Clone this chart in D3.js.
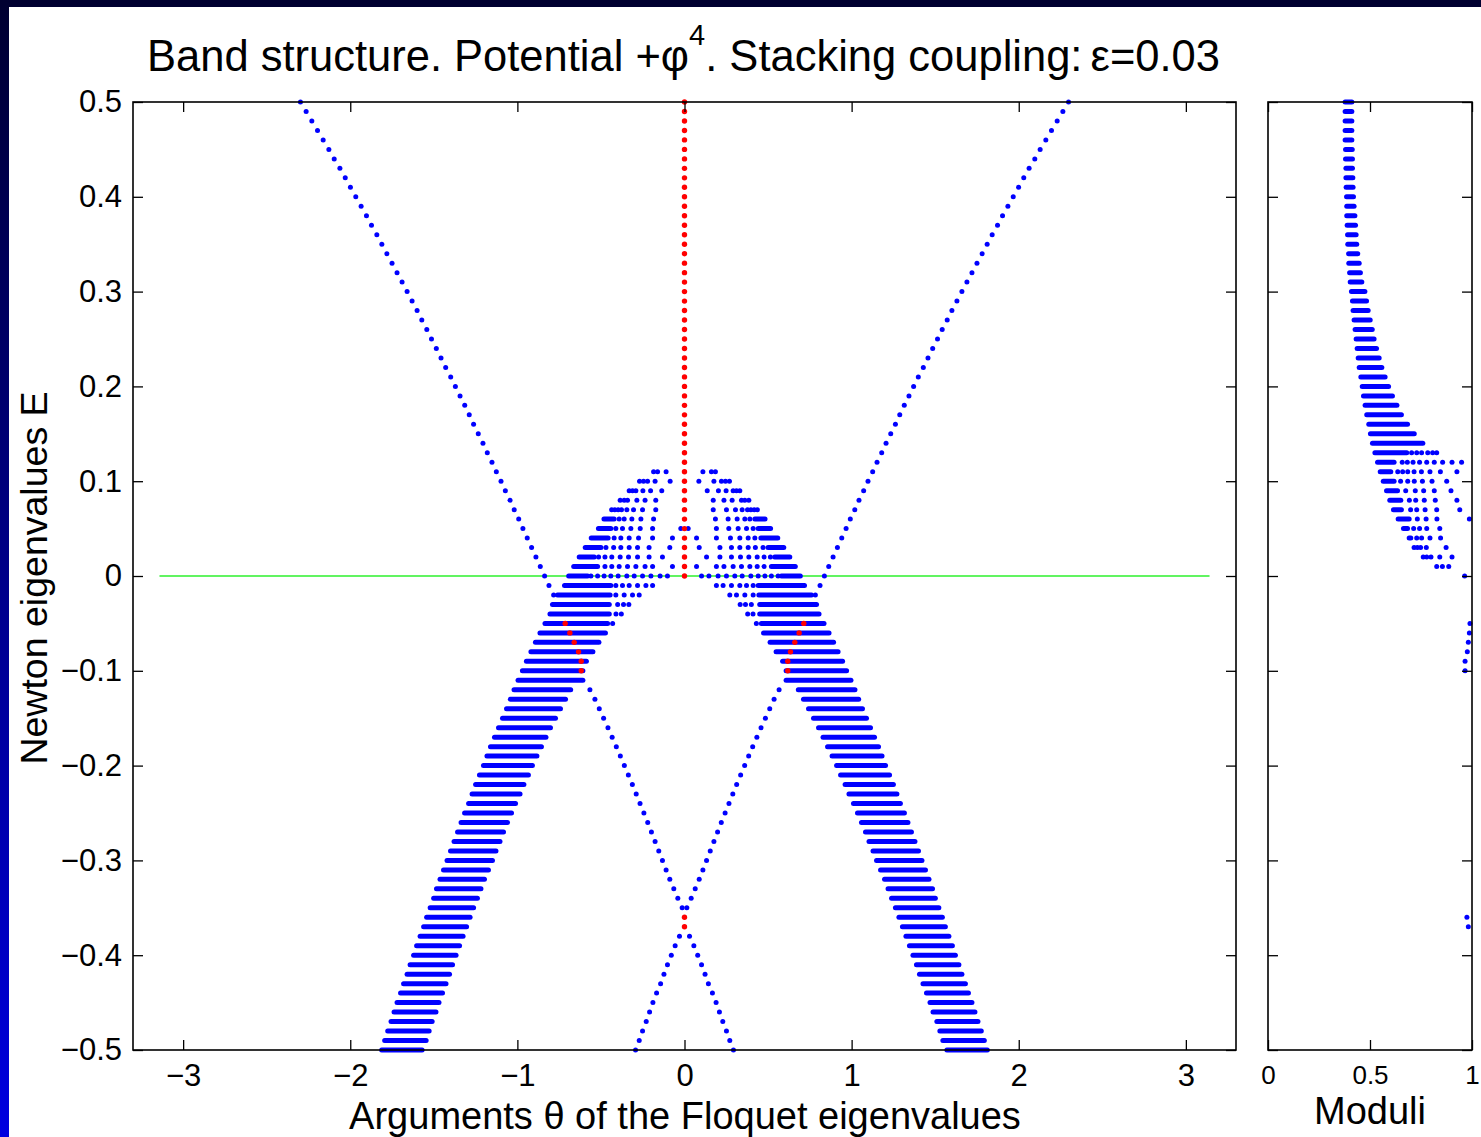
<!DOCTYPE html>
<html>
<head>
<meta charset="utf-8">
<script src="https://cdn.jsdelivr.net/npm/d3@7"></script>
<style>
  html, body { margin: 0; padding: 0; background: #ffffff; }
  svg { display: block; }
  text { font-family: "Liberation Sans", Arial, Helvetica, sans-serif; fill: #000; }
</style>
</head>
<body>
<svg id="chart" width="1481" height="1137"></svg>
<script>
// ---------------------------------------------------------------
// Tick values
// ---------------------------------------------------------------
const xTickValues = [-3, -2, -1, 0, 1, 2, 3];
const yTickValues = [-0.5, -0.4, -0.3, -0.2, -0.1, 0, 0.1, 0.2, 0.3, 0.4, 0.5];
const moduliTickValues = [0, 0.5, 1];

// ---------------------------------------------------------------
// Single-chain branch [E, theta]; its mirror image (theta -> -theta)
// is the second branch.
// ---------------------------------------------------------------
const chainBranch = [
  [0.50, -2.298], [0.49, -2.264], [0.48, -2.230], [0.47, -2.196], [0.46, -2.162],
  [0.45, -2.128], [0.44, -2.096], [0.43, -2.062], [0.42, -2.030], [0.41, -1.999],
  [0.40, -1.967], [0.39, -1.935], [0.38, -1.903], [0.37, -1.873], [0.36, -1.841],
  [0.35, -1.811], [0.34, -1.781], [0.33, -1.750], [0.32, -1.720], [0.31, -1.690],
  [0.30, -1.660], [0.29, -1.630], [0.28, -1.600], [0.27, -1.572], [0.26, -1.542],
  [0.25, -1.514], [0.24, -1.485], [0.23, -1.457], [0.22, -1.429], [0.21, -1.399],
  [0.20, -1.371], [0.19, -1.343], [0.18, -1.315], [0.17, -1.288], [0.16, -1.262],
  [0.15, -1.234], [0.14, -1.206], [0.13, -1.180], [0.12, -1.152], [0.11, -1.126],
  [0.10, -1.098], [0.09, -1.072], [0.08, -1.044], [0.07, -1.019], [0.06, -0.992],
  [0.05, -0.967], [0.04, -0.941], [0.03, -0.915], [0.02, -0.889], [0.01, -0.863],
  [0.00, -0.837], [-0.01, -0.811], [-0.02, -0.783],
  [-0.12, -0.566], [-0.13, -0.536], [-0.14, -0.510], [-0.15, -0.484], [-0.16, -0.458],
  [-0.17, -0.433], [-0.18, -0.408], [-0.19, -0.384], [-0.20, -0.360], [-0.21, -0.336],
  [-0.22, -0.312], [-0.23, -0.289], [-0.24, -0.266], [-0.25, -0.243], [-0.26, -0.220],
  [-0.27, -0.198], [-0.28, -0.176], [-0.29, -0.154], [-0.30, -0.132], [-0.31, -0.110],
  [-0.32, -0.088], [-0.33, -0.064], [-0.34, -0.040], [-0.35, -0.014],
  [-0.38, 0.030], [-0.39, 0.056], [-0.40, 0.079], [-0.41, 0.102], [-0.42, 0.123],
  [-0.43, 0.143], [-0.44, 0.167], [-0.45, 0.189], [-0.46, 0.209], [-0.47, 0.229],
  [-0.48, 0.251], [-0.49, 0.271], [-0.50, 0.293]
];

// ---------------------------------------------------------------
// Stacked band, theta < 0 half: [E, runs of merged dots, single dots].
// The theta > 0 half is its mirror image.
// ---------------------------------------------------------------
const bandRows = [
  [0.11, [], [-0.185, -0.161, -0.110]],
  [0.10, [], [-0.269, -0.245, -0.221, -0.176, -0.086]],
  [0.09, [], [-0.331, -0.311, -0.291, -0.249, -0.203, -0.136]],
  [0.08, [], [-0.385, -0.361, -0.341, -0.285, -0.236, -0.172]],
  [0.07, [], [-0.436, -0.417, -0.397, -0.377, -0.345, -0.305, -0.251, -0.172]],
  [0.06, [[-0.482, -0.421]], [-0.391, -0.361, -0.315, -0.261, -0.185]],
  [0.05, [[-0.515, -0.441]], [-0.411, -0.371, -0.321, -0.265, -0.191, -0.022]],
  [0.04, [[-0.558, -0.457]], [-0.421, -0.381, -0.331, -0.275, -0.191, -0.072]],
  [0.03, [[-0.594, -0.500]], [-0.470, -0.424, -0.381, -0.331, -0.281, -0.212, -0.088]],
  [0.02, [[-0.630, -0.540]], [-0.514, -0.476, -0.435, -0.385, -0.335, -0.281, -0.212, -0.132]],
  [0.01, [[-0.663, -0.520]], [-0.476, -0.435, -0.391, -0.341, -0.291, -0.236, -0.191, -0.072]],
  [0.00, [[-0.693, -0.580]], [-0.560, -0.520, -0.481, -0.441, -0.397, -0.345, -0.301, -0.251, -0.201, -0.146, -0.102]],
  [-0.01, [[-0.718, -0.441]], [-0.411, -0.371, -0.331, -0.281, -0.231, -0.191]],
  [-0.02, [[-0.760, -0.445]], [-0.411, -0.361, -0.311, -0.271]],
  [-0.03, [[-0.790, -0.450]], [-0.400, -0.365, -0.333]],
  [-0.04, [[-0.805, -0.450]], [-0.410, -0.378]],
  [-0.05, [[-0.835, -0.460]], [-0.430]],
  [-0.06, [[-0.865, -0.473]], []],
  [-0.07, [[-0.892, -0.512]], []],
  [-0.08, [[-0.919, -0.548]], []],
  [-0.09, [[-0.946, -0.587]], []],
  [-0.10, [[-0.970, -0.608]], []],
  [-0.11, [[-0.996, -0.608]], []],
  [-0.12, [[-1.020, -0.681]], []],
  [-0.13, [[-1.042, -0.712]], []],
  [-0.14, [[-1.065, -0.742]], []],
  [-0.15, [[-1.089, -0.772]], []],
  [-0.16, [[-1.113, -0.802]], []],
  [-0.17, [[-1.137, -0.829]], []],
  [-0.18, [[-1.161, -0.856]], []],
  [-0.19, [[-1.182, -0.883]], []],
  [-0.20, [[-1.203, -0.910]], []],
  [-0.21, [[-1.227, -0.934]], []],
  [-0.22, [[-1.250, -0.961]], []],
  [-0.23, [[-1.271, -0.984]], []],
  [-0.24, [[-1.292, -1.011]], []],
  [-0.25, [[-1.316, -1.035]], []],
  [-0.26, [[-1.337, -1.059]], []],
  [-0.27, [[-1.358, -1.083]], []],
  [-0.28, [[-1.379, -1.104]], []],
  [-0.29, [[-1.400, -1.128]], []],
  [-0.30, [[-1.421, -1.149]], []],
  [-0.31, [[-1.442, -1.173]], []],
  [-0.32, [[-1.463, -1.197]], []],
  [-0.33, [[-1.484, -1.218]], []],
  [-0.34, [[-1.501, -1.239]], []],
  [-0.35, [[-1.522, -1.262]], []],
  [-0.36, [[-1.543, -1.283]], []],
  [-0.37, [[-1.561, -1.304]], []],
  [-0.38, [[-1.582, -1.325]], []],
  [-0.39, [[-1.603, -1.346]], []],
  [-0.40, [[-1.621, -1.367]], []],
  [-0.41, [[-1.642, -1.388]], []],
  [-0.42, [[-1.660, -1.406]], []],
  [-0.43, [[-1.681, -1.427]], []],
  [-0.44, [[-1.699, -1.448]], []],
  [-0.45, [[-1.720, -1.469]], []],
  [-0.46, [[-1.738, -1.487]], []],
  [-0.47, [[-1.756, -1.510]], []],
  [-0.48, [[-1.776, -1.528]], []],
  [-0.49, [[-1.794, -1.546]], []],
  [-0.50, [[-1.812, -1.570]], []]
];

// Off-unit-circle eigenvalues inside the band (theta < 0 half), mirrored
const bandRed = [
  [-0.05, -0.714], [-0.06, -0.686], [-0.07, -0.660],
  [-0.08, -0.634], [-0.09, -0.618], [-0.10, -0.618]
];

// Off-unit-circle eigenvalues at theta = 0
const centerRedE = [
  0.50, 0.49, 0.48, 0.47, 0.46, 0.45, 0.44, 0.43, 0.42, 0.41,
  0.40, 0.39, 0.38, 0.37, 0.36, 0.35, 0.34, 0.33, 0.32, 0.31,
  0.30, 0.29, 0.28, 0.27, 0.26, 0.25, 0.24, 0.23, 0.22, 0.21,
  0.20, 0.19, 0.18, 0.17, 0.16, 0.15, 0.14, 0.13, 0.12, 0.11,
  0.10, 0.09, 0.08, 0.07, 0.06, 0.05, 0.04, 0.03, 0.02, 0.01,
  0.00, -0.36, -0.37
];

// ---------------------------------------------------------------
// Moduli panel: merged runs [E, m0, m1] and single dots [E, [m...]]
// ---------------------------------------------------------------
const moduliRuns = [
  [0.50, 0.378, 0.411], [0.49, 0.378, 0.411], [0.48, 0.378, 0.411], [0.47, 0.378, 0.411],
  [0.46, 0.378, 0.411], [0.45, 0.380, 0.413], [0.44, 0.380, 0.414], [0.43, 0.382, 0.414],
  [0.42, 0.382, 0.416], [0.41, 0.383, 0.417], [0.40, 0.385, 0.419], [0.39, 0.386, 0.422],
  [0.38, 0.386, 0.426], [0.37, 0.388, 0.429], [0.36, 0.390, 0.432], [0.35, 0.391, 0.435],
  [0.34, 0.395, 0.440], [0.33, 0.396, 0.447], [0.32, 0.400, 0.453], [0.31, 0.403, 0.460],
  [0.30, 0.409, 0.475], [0.29, 0.414, 0.483], [0.28, 0.417, 0.491], [0.27, 0.422, 0.501],
  [0.26, 0.427, 0.511], [0.25, 0.432, 0.520], [0.24, 0.437, 0.532], [0.23, 0.442, 0.545],
  [0.22, 0.447, 0.558], [0.21, 0.455, 0.574], [0.20, 0.462, 0.591], [0.19, 0.468, 0.610],
  [0.18, 0.476, 0.632], [0.17, 0.484, 0.654], [0.16, 0.494, 0.684], [0.15, 0.502, 0.717],
  [0.14, 0.512, 0.759], [0.13, 0.524, 0.680], [0.12, 0.537, 0.618], [0.11, 0.550, 0.602],
  [0.10, 0.565, 0.618], [0.09, 0.581, 0.635], [0.08, 0.597, 0.651], [0.07, 0.615, 0.654],
  [0.06, 0.638, 0.692], [0.05, 0.664, 0.684], [0.04, 0.692, 0.700]
];
const moduliDots = [
  [0.13, [0.704, 0.729, 0.753, 0.783, 0.807, 0.827]],
  [0.12, [0.658, 0.683, 0.711, 0.743, 0.778, 0.815, 0.856, 0.902, 0.949]],
  [0.11, [0.636, 0.660, 0.685, 0.716, 0.752, 0.794, 0.845, 0.926]],
  [0.10, [0.650, 0.685, 0.717, 0.757, 0.804, 0.876]],
  [0.09, [0.675, 0.722, 0.763, 0.815, 0.897]],
  [0.08, [0.693, 0.724, 0.766, 0.820, 0.926]],
  [0.07, [0.699, 0.729, 0.770, 0.827, 0.940]],
  [0.06, [0.732, 0.775, 0.828, 0.987]],
  [0.05, [0.714, 0.743, 0.778, 0.842]],
  [0.04, [0.729, 0.753, 0.794, 0.846]],
  [0.03, [0.716, 0.732, 0.748, 0.776, 0.873]],
  [0.02, [0.761, 0.778, 0.799, 0.842, 0.902]],
  [0.01, [0.827, 0.855, 0.886]],
  [0.00, [0.964]],
  [-0.05, [0.990]], [-0.06, [0.987]], [-0.07, [0.982]], [-0.08, [0.977]],
  [-0.09, [0.966]], [-0.10, [0.966]], [-0.36, [0.975]], [-0.37, [0.982]]
];

// ---------------------------------------------------------------
// Drawing
// ---------------------------------------------------------------
const BLUE = "#0000ff", RED = "#ff0000", GREEN = "#2cf02c";
const R = 2.5;

const svg = d3.select("#chart");

// frame gradient
const defs = svg.append("defs");
const grad = defs.append("linearGradient").attr("id", "frameGrad")
  .attr("x1", 0).attr("y1", 0).attr("x2", 0).attr("y2", 1);
grad.append("stop").attr("offset", "0%").attr("stop-color", "#000030");
grad.append("stop").attr("offset", "100%").attr("stop-color", "#0000e0");
svg.append("rect").attr("width", 1481).attr("height", 1137).attr("fill", "url(#frameGrad)");
svg.append("rect").attr("x", 9).attr("y", 7).attr("width", 1472).attr("height", 1130).attr("fill", "#ffffff");

const main = { left: 133, right: 1236, top: 102, bottom: 1050 };
const side = { left: 1268, right: 1472 };

const x = d3.scaleLinear().domain([-3.3, 3.3]).range([main.left, main.right]);
const y = d3.scaleLinear().domain([-0.5, 0.5]).range([main.bottom, main.top]);
const xm = d3.scaleLinear().domain([0, 1]).range([side.left, side.right]);

const minus = v => (v < 0 ? "\u2212" : "") + Math.abs(v);
const fmtY = v => v === 0 ? "0" : (v < 0 ? "\u2212" : "") + Math.abs(v).toFixed(1);

function styleAxis(g, fs) {
  g.select(".domain").remove();
  g.selectAll(".tick line").attr("stroke", "#000").attr("stroke-width", 1.3);
  g.selectAll(".tick text").style("font-size", fs + "px");
}

// --- main panel ---
const gMain = svg.append("g");

// zero-energy reference line over one Brillouin zone
gMain.append("line")
  .attr("x1", x(-Math.PI)).attr("x2", x(Math.PI))
  .attr("y1", y(0)).attr("y2", y(0))
  .attr("stroke", GREEN).attr("stroke-width", 1.6);

const dotsLayer = gMain.append("g");

// band runs (both halves)
const runs = [];
bandRows.forEach(([E, rr]) => rr.forEach(([a, b]) => {
  runs.push([E, a, b]);
  runs.push([E, -b, -a]);
}));
dotsLayer.selectAll("line.run").data(runs).join("line").attr("class", "run")
  .attr("x1", d => x(d[1])).attr("x2", d => x(d[2]))
  .attr("y1", d => y(d[0])).attr("y2", d => y(d[0]))
  .attr("stroke", BLUE).attr("stroke-width", 2 * R).attr("stroke-linecap", "round");

// single blue dots: band + both chain branches
const blueDots = [];
bandRows.forEach(([E, , dd]) => dd.forEach(t => { blueDots.push([E, t]); blueDots.push([E, -t]); }));
chainBranch.forEach(([E, t]) => { blueDots.push([E, t]); blueDots.push([E, -t]); });
dotsLayer.selectAll("circle.b").data(blueDots).join("circle").attr("class", "b")
  .attr("cx", d => x(d[1])).attr("cy", d => y(d[0])).attr("r", R).attr("fill", BLUE);

// red dots
const redDots = [];
bandRed.forEach(([E, t]) => { redDots.push([E, t]); redDots.push([E, -t]); });
centerRedE.forEach(E => redDots.push([E, 0]));
dotsLayer.selectAll("circle.r").data(redDots).join("circle").attr("class", "r")
  .attr("cx", d => x(d[1])).attr("cy", d => y(d[0])).attr("r", R + 0.2).attr("fill", RED);

// box
gMain.append("rect")
  .attr("x", main.left).attr("y", main.top)
  .attr("width", main.right - main.left).attr("height", main.bottom - main.top)
  .attr("fill", "none").attr("stroke", "#000").attr("stroke-width", 1.6);

gMain.append("g").attr("transform", `translate(0,${main.bottom})`)
  .call(d3.axisBottom(x).tickValues(xTickValues).tickSize(-10).tickPadding(14).tickFormat(minus))
  .call(g => styleAxis(g, 31));
gMain.append("g").attr("transform", `translate(0,${main.top})`)
  .call(d3.axisTop(x).tickValues(xTickValues).tickSize(-10).tickFormat(""))
  .call(g => styleAxis(g, 31));
gMain.append("g").attr("transform", `translate(${main.left},0)`)
  .call(d3.axisLeft(y).tickValues(yTickValues).tickSize(-10).tickPadding(11).tickFormat(fmtY))
  .call(g => styleAxis(g, 31));
gMain.append("g").attr("transform", `translate(${main.right},0)`)
  .call(d3.axisRight(y).tickValues(yTickValues).tickSize(-10).tickFormat(""))
  .call(g => styleAxis(g, 31));

// --- moduli panel ---
const gSide = svg.append("g");
gSide.selectAll("line.mr").data(moduliRuns).join("line").attr("class", "mr")
  .attr("x1", d => xm(d[1])).attr("x2", d => xm(d[2]))
  .attr("y1", d => y(d[0])).attr("y2", d => y(d[0]))
  .attr("stroke", BLUE).attr("stroke-width", 2 * R).attr("stroke-linecap", "round");
const mDots = [];
moduliDots.forEach(([E, mm]) => mm.forEach(m => mDots.push([E, m])));
gSide.selectAll("circle.md").data(mDots).join("circle").attr("class", "md")
  .attr("cx", d => xm(d[1])).attr("cy", d => y(d[0])).attr("r", R).attr("fill", BLUE);

gSide.append("rect")
  .attr("x", side.left).attr("y", main.top)
  .attr("width", side.right - side.left).attr("height", main.bottom - main.top)
  .attr("fill", "none").attr("stroke", "#000").attr("stroke-width", 1.6);
gSide.append("g").attr("transform", `translate(0,${main.bottom})`)
  .call(d3.axisBottom(xm).tickValues(moduliTickValues).tickSize(-10).tickPadding(16).tickFormat(d => String(d)))
  .call(g => styleAxis(g, 26));
gSide.append("g").attr("transform", `translate(0,${main.top})`)
  .call(d3.axisTop(xm).tickValues(moduliTickValues).tickSize(-10).tickFormat(""))
  .call(g => styleAxis(g, 26));
gSide.append("g").attr("transform", `translate(${side.left},0)`)
  .call(d3.axisLeft(y).tickValues(yTickValues).tickSize(-10).tickFormat(""))
  .call(g => styleAxis(g, 26));
gSide.append("g").attr("transform", `translate(${side.right},0)`)
  .call(d3.axisRight(y).tickValues(yTickValues).tickSize(-10).tickFormat(""))
  .call(g => styleAxis(g, 26));

// --- titles and labels ---
const title = svg.append("text").attr("x", 147).attr("y", 71).style("font-size", "43.5px");
title.append("tspan").text("Band structure. Potential +");
title.append("tspan").text("\u03c6");
title.append("tspan").attr("dy", -26).style("font-size", "29px").text("4");
title.append("tspan").attr("dy", 26).text(". Stacking coupling: ");
title.append("tspan").attr("dx", -4).text("\u03b5=0.03");

svg.append("text").attr("x", 685).attr("y", 1129).attr("text-anchor", "middle")
  .style("font-size", "38px").text("Arguments \u03b8 of the Floquet eigenvalues");

svg.append("text").attr("transform", "translate(47,578) rotate(-90)").attr("text-anchor", "middle")
  .style("font-size", "37.5px").text("Newton eigenvalues E");

svg.append("text").attr("x", 1370).attr("y", 1124).attr("text-anchor", "middle")
  .style("font-size", "38px").text("Moduli");
</script>
</body>
</html>
